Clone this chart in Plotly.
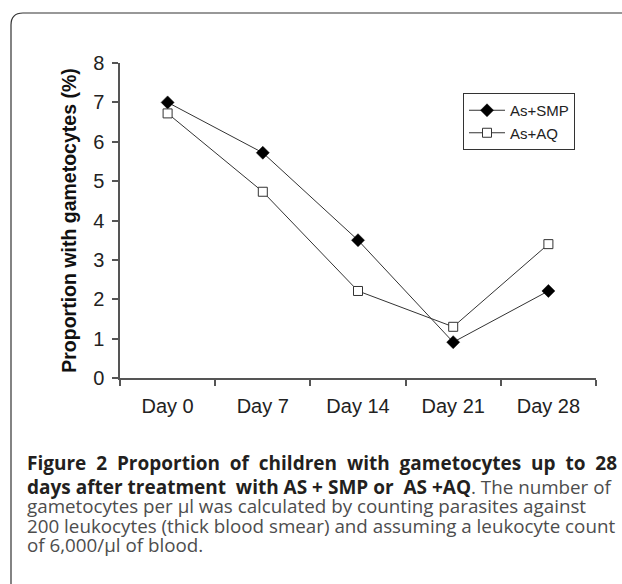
import plotly.graph_objects as go

days = ["Day 0", "Day 7", "Day 14", "Day 21", "Day 28"]
as_smp = [7.0, 5.72, 3.5, 0.91, 2.21]
as_aq = [6.72, 4.73, 2.21, 1.30, 3.40]
y_ticks = [0, 1, 2, 3, 4, 5, 6, 7, 8]

W, H = 622, 584
L, R, T, B = 120, 596, 63, 378  # plot area in pixels


def px(x):
    return (x - L) / (R - L)


def py(y):
    return (B - y) / (B - T)


fig = go.Figure()
fig.add_trace(go.Scatter(
    x=days, y=as_smp, name="As+SMP", mode="lines+markers",
    line=dict(color="#333333", width=1),
    marker=dict(symbol="diamond", size=10, color="#000000",
                line=dict(color="#000000", width=0.5)),
))
fig.add_trace(go.Scatter(
    x=days, y=as_aq, name="As+AQ", mode="lines+markers",
    line=dict(color="#333333", width=1),
    marker=dict(symbol="square", size=9, color="#ffffff",
                line=dict(color="#333333", width=1)),
))

axis_font = dict(family="Liberation Sans, Arial, sans-serif", size=20, color="#222222")
title_font = dict(family="Liberation Sans, Arial, sans-serif", size=19.5, color="#111111")

fig.update_layout(
    width=W, height=H,
    margin=dict(l=L, r=W - R, t=T, b=H - B, autoexpand=False),
    paper_bgcolor="#ffffff", plot_bgcolor="#ffffff",
    showlegend=True,
    legend=dict(
        x=px(463), y=py(93), xanchor="left", yanchor="top",
        bordercolor="#333333", borderwidth=1, bgcolor="#ffffff",
        font=dict(family="Liberation Sans, Arial, sans-serif", size=15, color="#222222"),
        tracegroupgap=0, itemwidth=36,
    ),
    xaxis=dict(
        type="category", categoryorder="array", categoryarray=days,
        range=[-0.5, 4.5], tickson="boundaries",
        showline=True, linecolor="#555555", linewidth=1.5,
        ticks="outside", ticklen=6, tickcolor="#555555", tickwidth=1.5,
        showgrid=False, zeroline=False, tickfont=axis_font,
        ticklabelstandoff=9,
    ),
    yaxis=dict(
        range=[0, 8], tickvals=y_ticks,
        showline=True, linecolor="#555555", linewidth=1.5,
        ticks="outside", ticklen=6, tickcolor="#555555", tickwidth=1.5,
        showgrid=False, zeroline=False, tickfont=axis_font,
        ticklabelstandoff=4,
        title=dict(text="<b>Proportion with gametocytes (%)</b>", font=title_font, standoff=11),
    ),
)

# card border with rounded top-left corner
fig.add_shape(
    type="path", xref="paper", yref="paper",
    path=(f"M {px(11)} {py(600)} L {px(11)} {py(25)} "
          f"Q {px(11)} {py(13)} {px(23)} {py(13)} L {px(640)} {py(13)}"),
    line=dict(color="#333333", width=1.2),
)

NB = " \u00a0"
cap_font_b = dict(family="Open Sans, sans-serif", size=19, color="#231f20")
cap_font_r = dict(family="Open Sans, sans-serif", size=18.8, color="#4d4d4d")
line1 = NB.join("Figure 2 Proportion of children with gametocytes up to 28".split(" "))
line2 = "days after treatment" + NB + "with AS + SMP or" + NB + "AS +AQ"
captions = [
    ("<b>" + line1 + "</b>", 463, cap_font_b),
    ("<b>" + line2 + "</b>"
     "<span style='color:#4d4d4d;font-weight:normal;font-size:18.8px'>. The number of</span>", 487, cap_font_b),
    ("gametocytes per µl was calculated by counting parasites against", 506, cap_font_r),
    ("200 leukocytes (thick blood smear) and assuming a leukocyte count", 526, cap_font_r),
    ("of 6,000/µl of blood.", 545, cap_font_r),
]
for text, yc, f in captions:
    fig.add_annotation(
        text=text, xref="paper", yref="paper", x=px(24.5), y=py(yc),
        xanchor="left", yanchor="middle", showarrow=False, font=f, align="left",
    )

fig.write_html(
    "out.html",
    config={"displayModeBar": False},
    post_script="document.body.style.margin='0';document.body.style.overflow='hidden';",
)
